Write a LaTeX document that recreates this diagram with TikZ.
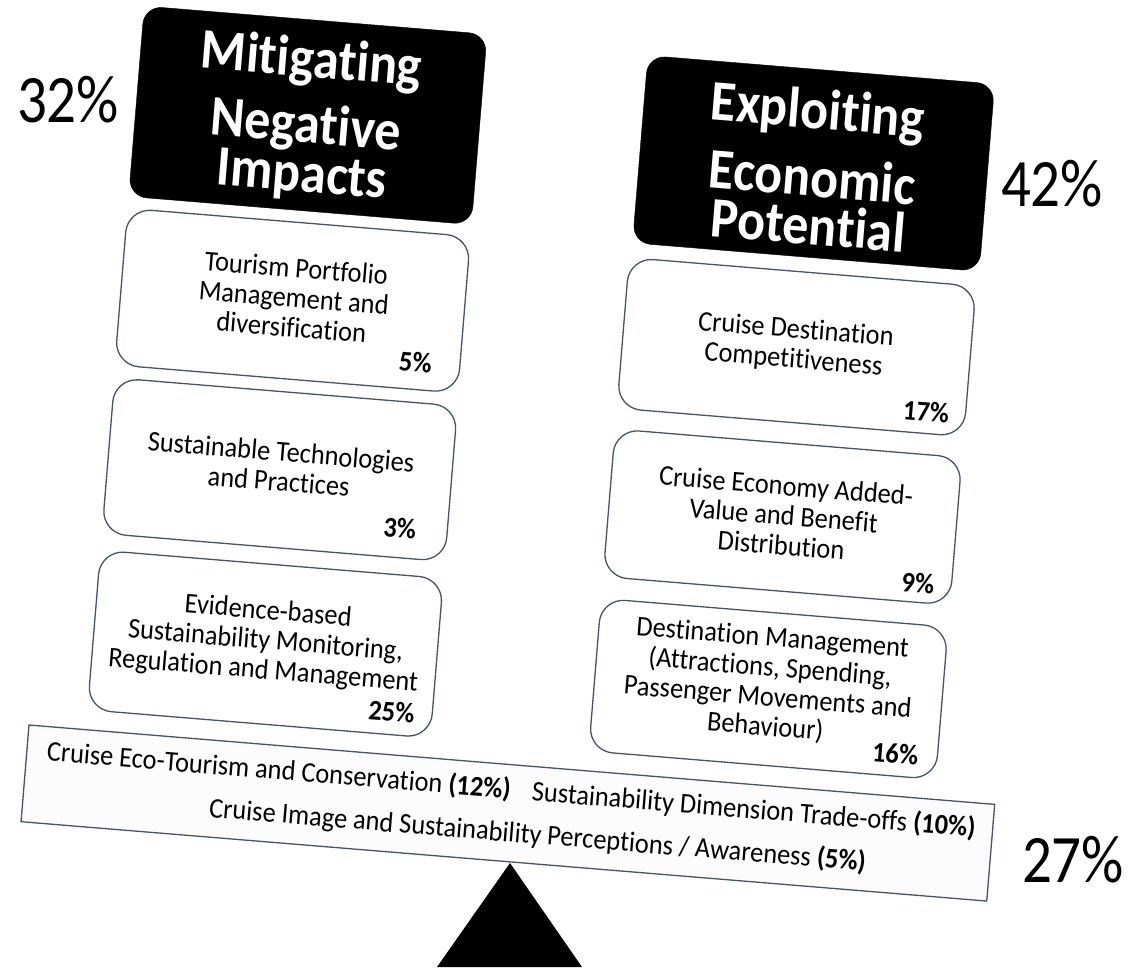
\documentclass[tikz,border=0pt]{standalone}
\usepackage{graphicx}
\usepackage{fontspec}
\setmainfont{Carlito}[Ligatures=NoCommon]
\definecolor{edge}{HTML}{44546A}
\definecolor{beamfill}{HTML}{FCFCFC}
\newcommand\vstretch[2][1.08]{\scalebox{1}[#1]{#2}}
\newcommand\lines[1]{\vstretch{\begin{tabular}{@{}c@{}}#1\end{tabular}}}
\begin{document}
\begin{tikzpicture}[x=1pt,y=1pt,
  headbox/.style={draw=black, fill=black, rounded corners=18pt, transform shape, inner sep=0pt},
  itembox/.style={draw=edge, line width=1.3pt, fill=white, rounded corners=24pt, transform shape, inner sep=0pt},
  headtext/.style={text=white, font=\fontsize{52}{49.5}\selectfont\bfseries, anchor=base, transform shape, inner sep=0pt},
  itemtext/.style={font=\fontsize{26.4}{27.6}\selectfont, transform shape, inner sep=0pt},
  pct/.style={font=\fontsize{26.4}{29}\selectfont\bfseries, anchor=east, transform shape, inner sep=0pt},
  beamtext/.style={font=\fontsize{26.4}{29}\selectfont, transform shape, inner sep=0pt},
  bigpct/.style={font=\fontsize{59}{60}\selectfont, inner sep=0pt}]
\useasboundingbox (0,0) rectangle (1130,-967);
% fulcrum
\coordinate (apex) at (510,-863);
\coordinate (baseL) at (437,-967);
\coordinate (baseR) at (582,-967);
\fill[black] (apex) -- (baseR) -- (baseL) -- cycle;
\begin{scope}[shift={(29,-725)}, rotate=-4.7]
  % beam
  \node[draw=edge, line width=1.3pt, fill=beamfill, minimum width=969pt, minimum height=97pt, inner sep=0pt, transform shape] (beam) at (484.5,-48.5) {};
  \node[beamtext, anchor=base west] (bt1) at (20,-34) {\vstretch{Cruise Eco-Tourism and Conservation \textbf{(12\%)}}};
  \node[beamtext, anchor=base east] (bt2) at (952,-34) {\vstretch{Sustainability Dimension Trade-offs \textbf{(10\%)}}};
  \node[beamtext, anchor=base] (bt3) at (516,-77) {\vstretch{Cruise Image and Sustainability Perceptions / Awareness \textbf{(5\%)}}};
  % left column
  \node[headbox, minimum width=344pt, minimum height=191pt] (H1) at (228,630.5) {};
  \node[headtext] (h1a) at (227,669) {\vstretch[1.1]{Mitigating}};
  \node[headtext] (h1b) at (227,603) {\vstretch[1.1]{Negative}};
  \node[headtext] (h1c) at (227,554) {\vstretch[1.1]{Impacts}};
  \node[itembox, minimum width=344pt, minimum height=157pt] (L1) at (228,444.5) {};
  \node[itemtext] (l1t) at (229,444) {\lines{Tourism Portfolio\\Management and\\diversification}};
  \node[pct] (l1p) at (372,393) {\vstretch{5\%}};
  \node[itembox, minimum width=344pt, minimum height=156pt] (L2) at (229,275) {};
  \node[itemtext] (l2t) at (229,274.5) {\lines{Sustainable Technologies\\and Practices}};
  \node[pct] (l2p) at (370,226.5) {\vstretch{3\%}};
  \node[itembox, minimum width=344pt, minimum height=160pt] (L3) at (229,100) {};
  \node[itemtext] (l3t) at (229,101) {\lines{Evidence-based\\Sustainability Monitoring,\\Regulation and Management}};
  \node[pct] (l3p) at (383.5,43.4) {\vstretch{25\%}};
  % right column
  \node[headbox, minimum width=348pt, minimum height=188pt] (H2) at (736,624) {};
  \node[headtext] (h2a) at (736,659) {\vstretch[1.1]{Exploiting}};
  \node[headtext] (h2b) at (736,591) {\vstretch[1.1]{Economic}};
  \node[headtext] (h2c) at (736,543) {\vstretch[1.1]{Potential}};
  \node[itembox, minimum width=348pt, minimum height=151pt] (R1) at (734,439.5) {};
  \node[itemtext] (r1t) at (732,439.5) {\lines{Cruise Destination\\Competitiveness}};
  \node[pct] (r1p) at (891.7,386) {\vstretch{17\%}};
  \node[itembox, minimum width=348pt, minimum height=148pt] (R2) at (734,269) {};
  \node[itemtext] (r2t) at (735,267) {\lines{Cruise Economy Added-\\Value and Benefit\\Distribution}};
  \node[pct] (r2p) at (891,214) {\vstretch{9\%}};
  \node[itembox, minimum width=348pt, minimum height=153pt] (R3) at (734,96.5) {};
  \node[itemtext] (r3t) at (734,100.5) {\lines{Destination Management\\(Attractions, Spending,\\Passenger Movements and\\Behaviour)}};
  \node[pct] (r3p) at (889,42.7) {\vstretch{16\%}};
\end{scope}
% overall shares
\node[bigpct] (p32) at (68,-100) {\vstretch[1.15]{32\%}};
\node[bigpct] (p42) at (1052,-184) {\vstretch[1.15]{42\%}};
\node[bigpct] (p27) at (1073,-860) {\vstretch[1.15]{27\%}};
\end{tikzpicture}
\end{document}
